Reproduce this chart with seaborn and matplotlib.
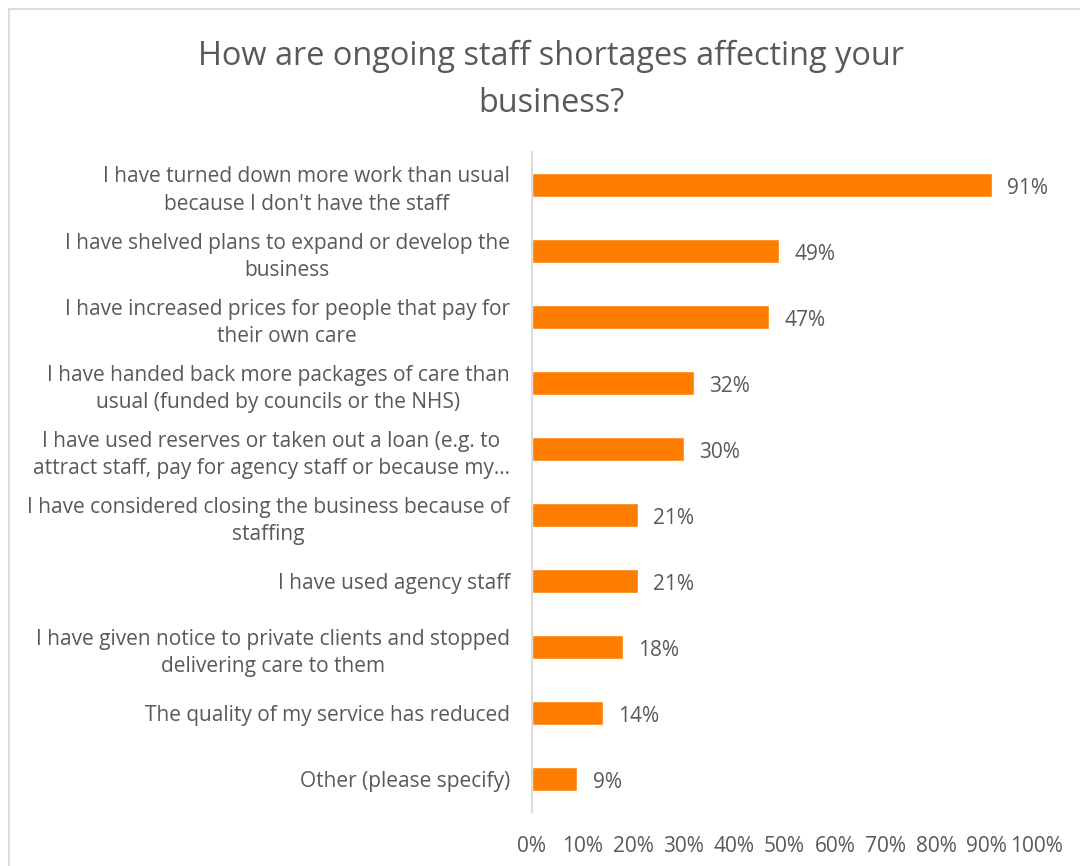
import matplotlib
matplotlib.use("Agg")
import matplotlib.pyplot as plt
import seaborn as sns
import pandas as pd
from matplotlib.patches import Rectangle

categories = [
    "I have turned down more work than usual\nbecause I don't have the staff",
    "I have shelved plans to expand or develop the\nbusiness",
    "I have increased prices for people that pay for\ntheir own care",
    "I have handed back more packages of care than\nusual (funded by councils or the NHS)",
    "I have used reserves or taken out a loan (e.g. to\nattract staff, pay for agency staff or because my…",
    "I have considered closing the business because of\nstaffing",
    "I have used agency staff",
    "I have given notice to private clients and stopped\ndelivering care to them",
    "The quality of my service has reduced",
    "Other (please specify)",
]
values = [91, 49, 47, 32, 30, 21, 21, 18, 14, 9]
x_ticks = [0, 10, 20, 30, 40, 50, 60, 70, 80, 90, 100]
title = "How are ongoing staff shortages affecting your\nbusiness?"

sns.set_theme(style="white")
plt.rcParams["font.family"] = ["Open Sans", "DejaVu Sans"]

TEXT = "#595959"
BAR = "#FF7E00"

df = pd.DataFrame({"category": categories, "value": values})

fig = plt.figure(figsize=(10.8, 8.66), dpi=100)
ax = fig.add_axes([532 / 1080, 1 - 812 / 866, (1037 - 532) / 1080, (812 - 152) / 866])

sns.barplot(data=df, x="value", y="category", orient="h", color=BAR,
            width=0.36, saturation=1, ax=ax)

ax.set_xlim(0, 100)
ax.set_ylim(len(categories) - 0.5, -0.5)
ax.set_xticks(x_ticks)
ax.set_xticklabels([f"{t}%" for t in x_ticks])
ax.set_xlabel("")
ax.set_ylabel("")

for side in ("top", "right", "bottom"):
    ax.spines[side].set_visible(False)
ax.spines["left"].set_color("#D9D9D9")
ax.spines["left"].set_linewidth(1.3)

ax.tick_params(axis="both", length=0, colors=TEXT, labelsize=15)
ax.tick_params(axis="y", pad=16)
ax.tick_params(axis="x", pad=17)
for lbl in ax.get_yticklabels():
    lbl.set_horizontalalignment("right")
    lbl.set_multialignment("center")
    lbl.set_linespacing(1.38)

# value labels just right of each bar end
for i, v in enumerate(values):
    ax.text(v + 3.0, i + 0.05, f"{v}%", va="center", ha="left", color=TEXT, fontsize=15)

fig.text(551 / 1080, 1 - 80 / 866, title, ha="center", va="center",
         color=TEXT, fontsize=23.4, linespacing=1.53)

fig.patches.append(Rectangle((9 / 1080, -0.1), 1.2, 1 - 9 / 866 + 0.1,
                             transform=fig.transFigure, fill=False,
                             edgecolor="#D9D9D9", linewidth=1.3))

fig.savefig("out.png", dpi=100, facecolor="white")
